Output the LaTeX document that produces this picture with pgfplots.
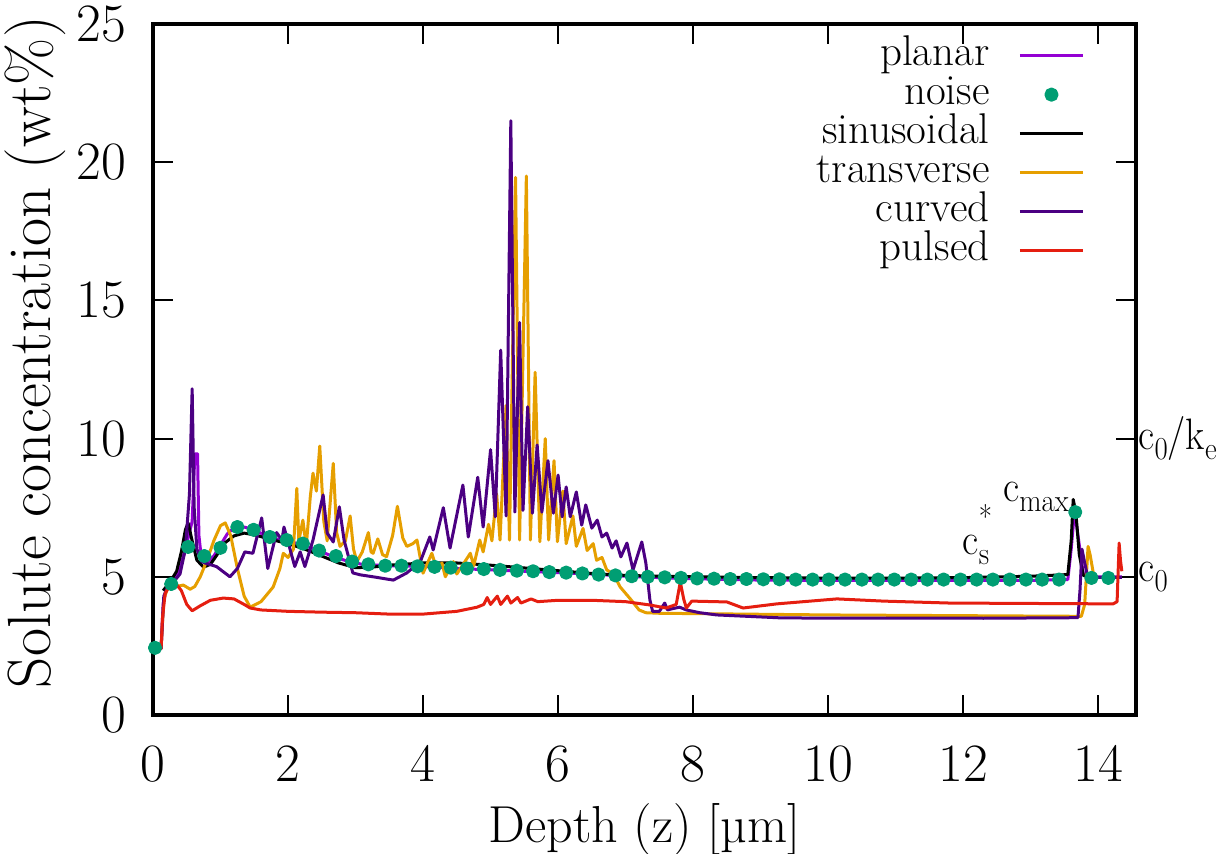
\documentclass[border=0pt]{standalone}
\usepackage{fontspec}
\usepackage{graphicx}
\usepackage{pgfplots}
\pgfplotsset{compat=1.18}
\definecolor{cplanar}{HTML}{9400D3}
\definecolor{cnoise}{HTML}{009E73}
\definecolor{ctrans}{HTML}{E69F00}
\definecolor{ccurved}{HTML}{4B0082}
\definecolor{cpulsed}{HTML}{E51E10}
\newcommand\sub[1]{\raisebox{-0.22em}{\fontsize{16}{16}\selectfont #1}}
\newcommand\cs[1]{\scalebox{0.9}[1]{#1}}
\begin{document}
\fontsize{21.5}{24}\selectfont
\begin{tikzpicture}
\begin{axis}[name=main, scale only axis, width=491.5pt, height=345.5pt,
  xmin=0, xmax=14.56, ymin=0, ymax=25,
  xtick={0,2,...,14}, ytick={0,5,...,25},
  xtick pos=both, ytick pos=both, tick align=inside,
  major tick length=10pt,
  every tick/.style={black, line width=1pt},
  axis line style={line width=2pt},
  /pgf/number format/assume math mode=true,
  tick label style={font=\fontsize{27}{32}\selectfont},
  xticklabel style={yshift=-8pt},
  yticklabel style={xshift=-6pt},
  xlabel={Depth (z) [µm]},
  ylabel={Solute concentration (wt\%)},
  xlabel style={font=\fontsize{26}{30}\selectfont, at={(axis description cs:0.5,-0.1838)}, anchor=base},
  ylabel style={font=\fontsize{30.5}{34}\selectfont, at={(axis description cs:-0.1043,0.525)}, anchor=base, rotate=0},
  legend style={draw=none, fill=none, inner sep=0pt, at={(0.948,0.983)}, anchor=north east,
    font=\fontsize{21.5}{24}\selectfont,
    column sep=14.5pt, row sep=0pt, nodes={inner sep=0pt, text height=14.6pt, text depth=4.9pt}},
  legend cell align=right,
  legend plot pos=right,
  legend image code/.code={\draw[mark repeat=2,mark phase=2,#1] plot coordinates {(0pt,0pt) (15.75pt,0pt) (31.5pt,0pt)};},
  every axis plot/.append style={line width=1.5pt, line join=round},
]
% planar
\addplot[cplanar, no marks] coordinates {
(0,2.4) (0.12,2.4) (0.15,4.0) (0.2,4.6) (0.3,4.85) (0.4,5.3) (0.5,6.2) (0.58,7.0) (0.62,9.45) (0.66,9.45) (0.68,6.5) (0.72,5.6) (0.8,5.5) (0.9,5.75) (1.0,6.15) (1.1,6.55) (1.2,6.78) (1.35,6.8) (1.5,6.7) (1.7,6.45) (1.95,6.3) (2.15,6.2) (2.4,6.0) (2.65,5.75) (2.9,5.55) (3.1,5.45) (3.5,5.4) (4.0,5.38) (4.5,5.3) (5.0,5.25) (5.5,5.2) (6.0,5.15) (6.5,5.1) (7.0,5.02) (7.5,4.97) (8.0,4.93) (9.0,4.88) (10,4.87) (11,4.87) (12,4.87) (13,4.87) (13.55,4.9) (13.6,6.0) (13.65,7.4) (13.7,6.5) (13.78,5.1) (13.85,5.0) (14.35,5.0)};
\addlegendentry{planar}
% noise
\addplot[cnoise, only marks, mark=*, mark size=2.8pt, mark options={draw=none, fill=cnoise}] coordinates {
(0.03,2.43) (0.27,4.74) (0.52,6.08) (0.76,5.75) (1.00,6.05) (1.25,6.80) (1.49,6.70) (1.73,6.44) (1.98,6.33) (2.22,6.20)
(2.46,5.95) (2.71,5.75) (2.95,5.55) (3.19,5.45) (3.44,5.40) (3.68,5.40) (3.92,5.38) (4.17,5.36) (4.41,5.33) (4.65,5.30)
(4.90,5.28) (5.14,5.25) (5.39,5.22) (5.63,5.20) (5.87,5.17) (6.12,5.15) (6.36,5.12) (6.60,5.08) (6.85,5.05) (7.09,5.02)
(7.33,5.00) (7.58,4.98) (7.82,4.96) (8.06,4.94) (8.31,4.93) (8.55,4.92) (8.79,4.92) (9.04,4.91) (9.28,4.91) (9.52,4.90)
(9.77,4.90) (10.01,4.90) (10.25,4.90) (10.50,4.90) (10.74,4.90) (10.98,4.90) (11.23,4.90) (11.47,4.90) (11.71,4.90) (11.96,4.90)
(12.20,4.90) (12.44,4.90) (12.69,4.90) (12.93,4.90) (13.17,4.90) (13.42,4.90) (13.66,7.34) (13.90,4.96) (14.15,4.96)};
\addlegendentry{noise}
% sinusoidal
\addplot[black, no marks] coordinates {
(0.15,4.5) (0.25,4.8) (0.35,5.2) (0.42,5.9) (0.48,6.7) (0.52,6.95) (0.58,6.3) (0.65,5.6) (0.75,5.35) (0.85,5.45) (0.95,5.8) (1.05,6.2) (1.2,6.48) (1.35,6.58) (1.5,6.52) (1.75,6.35) (2.0,6.2) (2.25,6.0) (2.5,5.75) (2.75,5.5) (3.0,5.33) (3.25,5.35) (3.5,5.42) (4.0,5.5) (4.5,5.5) (5.0,5.42) (5.5,5.32) (6.0,5.22) (6.5,5.12) (7.0,5.05) (7.5,5.02) (8,5.0) (9,4.97) (10,4.95) (11,4.95) (12,4.97) (13,5.02) (13.55,5.08) (13.6,6.3) (13.63,7.8) (13.67,7.3) (13.72,5.8) (13.78,5.05) (13.85,5.0)};
\addlegendentry{sinusoidal}
% transverse
\addplot[ctrans, no marks] coordinates {
(0,2.4) (0.12,2.4) (0.16,4.2) (0.22,4.6) (0.35,4.65) (0.45,4.7) (0.55,4.55) (0.62,4.65) (0.7,5.0) (0.8,5.6) (0.9,6.3) (1.0,6.85) (1.07,6.95) (1.15,6.5) (1.25,5.3) (1.35,4.3) (1.44,3.9) (1.6,4.1) (1.78,4.63) (1.88,5.3) (1.93,5.85) (2.0,5.7) (2.08,6.0) (2.13,8.2) (2.16,6.3) (2.22,7.05) (2.27,6.1) (2.33,7.9) (2.37,8.75) (2.42,8.1) (2.47,9.73) (2.53,7.0) (2.58,6.3) (2.67,9.1) (2.72,6.6) (2.77,6.1) (2.85,6.3) (2.92,7.2) (2.97,6.0) (3.02,5.55) (3.1,5.9) (3.19,6.6) (3.23,5.9) (3.26,5.85) (3.33,6.37) (3.4,5.8) (3.46,5.73) (3.55,6.5) (3.62,7.55) (3.7,6.4) (3.76,6.1) (3.85,6.2) (3.91,6.33) (4.0,5.13) (4.13,5.85) (4.2,5.3) (4.28,5.5) (4.33,5.0) (4.45,5.55) (4.5,5.1) (4.7,5.85) (4.75,5.4) (4.84,6.33) (4.89,5.9) (4.97,6.9) (5.02,6.3) (5.09,8.0) (5.14,6.33) (5.23,11.2) (5.28,6.33) (5.37,19.45) (5.43,6.33) (5.53,19.5) (5.59,6.33) (5.66,12.4) (5.73,6.27) (5.81,10.0) (5.86,6.33) (5.94,9.2) (5.99,6.27) (6.07,8.1) (6.12,6.2) (6.22,7.2) (6.27,6.1) (6.37,6.75) (6.43,5.95) (6.52,6.2) (6.57,5.6) (6.65,5.7) (6.72,5.25) (6.82,5.1) (6.92,4.63) (7.07,4.2) (7.2,3.8) (7.3,3.7) (7.5,3.68) (10,3.62) (13,3.58) (13.75,3.57) (13.8,4.0) (13.85,6.1) (13.88,5.8) (13.93,5.1) (13.98,5.0)};
\addlegendentry{transverse}
% curved
\addplot[ccurved, no marks] coordinates {
(0,2.4) (0.12,2.4) (0.16,4.3) (0.22,4.65) (0.3,4.8) (0.4,5.1) (0.48,6.0) (0.54,8.0) (0.58,11.8) (0.61,7.5) (0.65,6.0) (0.72,5.55) (0.77,5.5) (0.94,5.37) (1.14,5.0) (1.25,5.3) (1.36,5.9) (1.48,5.85) (1.61,7.13) (1.7,5.3) (1.83,6.6) (1.91,6.33) (1.94,6.8) (2.1,5.37) (2.18,5.9) (2.25,5.37) (2.37,6.33) (2.52,7.96) (2.58,6.58) (2.67,6.26) (2.76,7.53) (2.83,6.33) (2.96,5.14) (3.07,5.07) (3.26,5.0) (3.56,4.88) (3.76,5.14) (3.96,5.55) (4.1,6.44) (4.15,5.97) (4.3,7.5) (4.4,6.04) (4.59,8.32) (4.67,6.44) (4.81,8.6) (4.89,6.8) (5.0,9.6) (5.07,7.17) (5.15,13.2) (5.23,7.2) (5.30,21.5) (5.36,7.34) (5.43,14.2) (5.48,7.4) (5.55,11.15) (5.62,7.3) (5.69,9.77) (5.76,7.34) (5.85,9.2) (5.93,7.3) (6.0,8.68) (6.06,7.17) (6.12,8.25) (6.18,7.17) (6.27,8.07) (6.35,6.87) (6.41,7.6) (6.5,6.76) (6.58,7.05) (6.65,6.44) (6.72,6.58) (6.8,6.04) (6.86,6.3) (6.93,5.72) (7.02,6.22) (7.11,5.25) (7.24,6.26) (7.3,5.5) (7.36,4.16) (7.4,3.75) (7.5,3.75) (7.58,4.05) (7.62,3.8) (7.7,3.85) (7.8,3.9) (7.9,3.8) (8.1,3.7) (8.35,3.62) (9.33,3.51) (12.3,3.5) (13.7,3.52) (13.73,4.5) (13.76,6.0) (13.8,5.5) (13.84,5.05) (13.88,4.98) (14.35,4.98)};
\addlegendentry{curved}
% pulsed
\addplot[cpulsed, no marks] coordinates {
(0,2.4) (0.12,2.4) (0.14,3.5) (0.18,4.4) (0.25,4.7) (0.33,4.78) (0.42,4.5) (0.5,4.0) (0.58,3.77) (0.7,3.95) (0.85,4.15) (1.04,4.23) (1.2,4.2) (1.35,4.0) (1.44,3.87) (1.6,3.8) (2.0,3.75) (2.5,3.72) (3,3.7) (3.5,3.65) (4,3.65) (4.5,3.75) (4.8,3.9) (4.9,4.0) (4.95,4.25) (5.0,4.0) (5.1,4.3) (5.15,4.0) (5.25,4.3) (5.3,4.05) (5.4,4.25) (5.45,4.05) (5.6,4.2) (5.7,4.1) (6.0,4.15) (6.5,4.15) (7.0,4.1) (7.36,3.98) (7.6,3.87) (7.75,4.0) (7.81,4.81) (7.86,4.2) (7.9,3.87) (7.98,4.12) (8.5,4.09) (8.74,3.87) (9.24,4.02) (10.13,4.2) (10.82,4.12) (11.8,4.05) (14.22,4.02) (14.28,4.1) (14.31,6.22) (14.33,5.6) (14.35,5.2)};
\addlegendentry{pulsed}
\node[anchor=base west, inner sep=0pt, font=\fontsize{22}{26}\selectfont] at (axis cs:12.59,7.71) {\cs{c\sub{max}}};
\node[anchor=base west, inner sep=0pt, font=\fontsize{22}{26}\selectfont] at (axis cs:11.99,5.79) {\cs{c\rlap{\raisebox{0.6em}{\fontsize{16}{16}\selectfont *}}\sub{s}}};
\end{axis}
\begin{axis}[scale only axis, width=491.5pt, height=345.5pt, at={(main.south west)}, anchor=south west,
  xmin=0, xmax=14.56, ymin=0, ymax=25,
  axis x line=none, axis y line*=right, y axis line style={draw=none},
  ytick={5,10}, yticklabels={{\cs{c\sub{0}}}, {\cs{c\sub{0}/k\sub{e}}}},
  major tick length=0pt, ytick style={draw=none},
  yticklabel style={font=\fontsize{22}{26}\selectfont, inner sep=0pt, xshift=1pt, anchor=west}]
\end{axis}
\pgfresetboundingbox
\path[use as bounding box] ([shift={(-76.5pt,-69.5pt)}]main.south west) rectangle ([shift={(45pt,12pt)}]main.north east);
\end{tikzpicture}
\end{document}
